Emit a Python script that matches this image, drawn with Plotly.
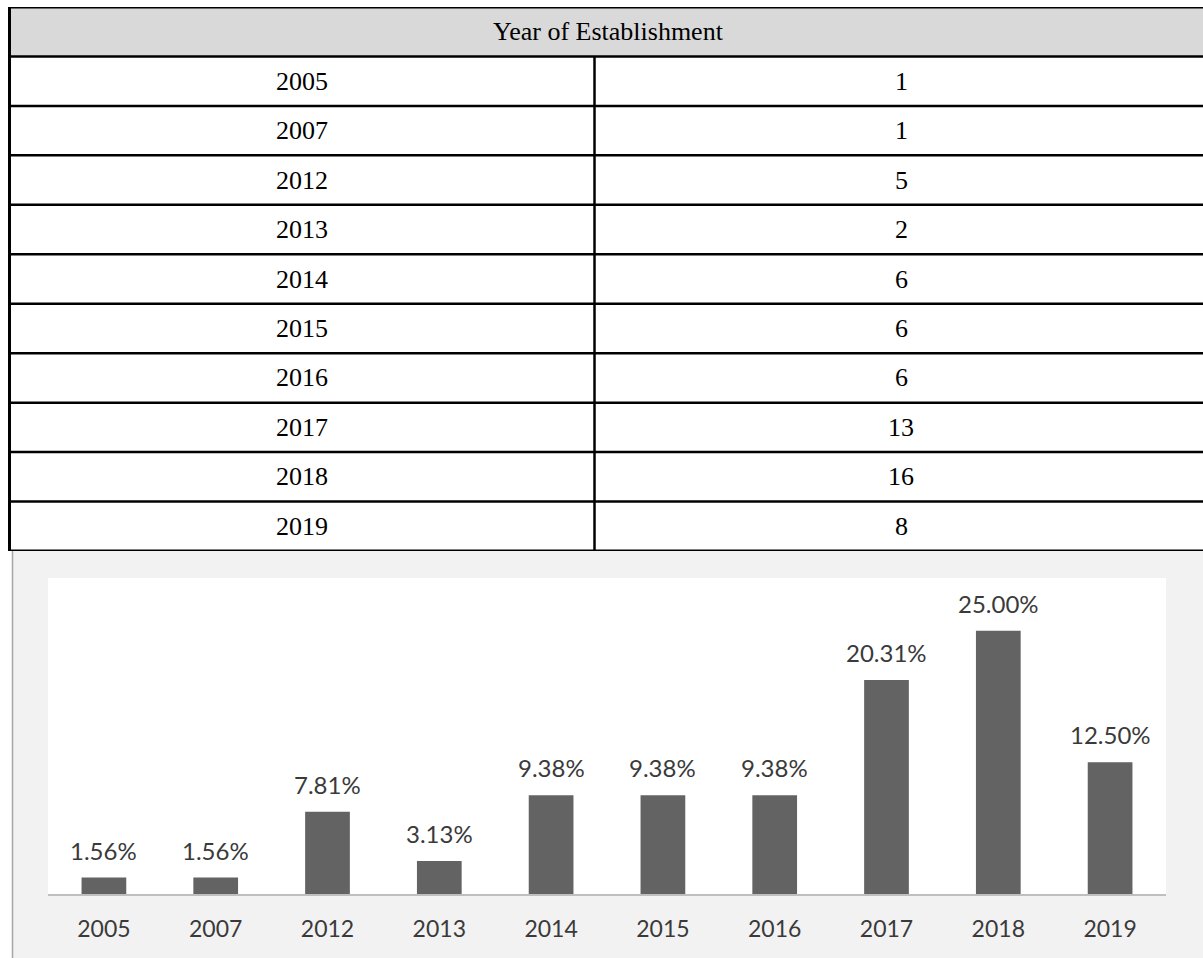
import plotly.graph_objects as go

# ---- data ----
years = ["2005", "2007", "2012", "2013", "2014", "2015", "2016", "2017", "2018", "2019"]
counts = [1, 1, 5, 2, 6, 6, 6, 13, 16, 8]
shares = [1.56, 1.56, 7.81, 3.13, 9.38, 9.38, 9.38, 20.31, 25.00, 12.50]
table_title = "Year of Establishment"

# ---- page geometry (pixels) ----
W, H = 1203, 958
TBL_TOP, TBL_BOTTOM = 7, 551
TBL_LEFT, TBL_DIV, TBL_RIGHT = 9.5, 594.5, 1208
PANEL_LEFT, PANEL_TOP = 12, 551
PLOT_L, PLOT_R, PLOT_T, PLOT_B = 48, 1166, 578, 894


def px(x):
    return x / W


def py(y):
    return 1 - y / H


SERIF = "Liberation Serif, Times New Roman, serif"
SANS = "Lato, Open Sans, sans-serif"

fig = go.Figure()

# bar chart of shares
fig.add_trace(go.Bar(
    x=years, y=shares,
    marker=dict(color="#636363", line=dict(width=0)),
    hoverinfo="x+y",
    showlegend=False,
    xaxis="x", yaxis="y",
))

shapes = []
annotations = []

# grey chart panel and white plotting area
shapes.append(dict(type="rect", xref="paper", yref="paper",
                   x0=px(PANEL_LEFT), x1=1.01, y0=-0.01, y1=py(PANEL_TOP),
                   fillcolor="#f2f2f2", line=dict(width=0), layer="below"))
shapes.append(dict(type="line", xref="paper", yref="paper",
                   x0=px(PANEL_LEFT + 0.5), x1=px(PANEL_LEFT + 0.5), y0=0, y1=py(PANEL_TOP),
                   line=dict(color="#a6a6a6", width=1.5), layer="below"))
shapes.append(dict(type="rect", xref="x domain", yref="y domain",
                   x0=0, x1=1, y0=0, y1=1,
                   fillcolor="#ffffff", line=dict(width=0), layer="below"))

# data labels above bars (category index positions on the x axis)
for i, v in enumerate(shares):
    annotations.append(dict(
        x=i, y=v, xref="x", yref="y", text=f"{v:.2f}%",
        showarrow=False, xanchor="center", yanchor="bottom", yshift=11,
        font=dict(family=SANS, size=24, color="#3a3a3a"),
    ))

# ---- table ----
n_rows = len(years) + 1  # header + data rows

# header background
shapes.append(dict(type="rect", xref="paper", yref="y2",
                   x0=px(TBL_LEFT), x1=1.01, y0=0, y1=1,
                   fillcolor="#d9d9d9", line=dict(width=0), layer="below"))
# horizontal rules
for i in range(1, n_rows):
    shapes.append(dict(type="line", xref="paper", yref="y2",
                       x0=px(TBL_LEFT), x1=1.01, y0=i, y1=i,
                       line=dict(color="#000000", width=2.5)))
for i in (0, n_rows):
    shapes.append(dict(type="line", xref="paper", yref="y2",
                       x0=px(TBL_LEFT), x1=1.01, y0=i, y1=i,
                       line=dict(color="#000000", width=3)))
# vertical rules
shapes.append(dict(type="line", xref="paper", yref="y2",
                   x0=px(TBL_LEFT), x1=px(TBL_LEFT), y0=0, y1=n_rows,
                   line=dict(color="#000000", width=3)))
shapes.append(dict(type="line", xref="paper", yref="y2",
                   x0=px(TBL_DIV), x1=px(TBL_DIV), y0=1, y1=n_rows,
                   line=dict(color="#000000", width=2.5)))

cell_font = dict(family=SERIF, size=26, color="#000000")
annotations.append(dict(
    x=px((TBL_LEFT + TBL_RIGHT) / 2), y=0.5, xref="paper", yref="y2",
    text=table_title, showarrow=False, xanchor="center", yanchor="middle",
    font=cell_font,
))
for i, (yr, c) in enumerate(zip(years, counts), start=1):
    annotations.append(dict(
        x=px((TBL_LEFT + TBL_DIV) / 2), y=i + 0.5, xref="paper", yref="y2",
        text=yr, showarrow=False, xanchor="center", yanchor="middle",
        font=cell_font,
    ))
    annotations.append(dict(
        x=px((TBL_DIV + TBL_RIGHT) / 2), y=i + 0.5, xref="paper", yref="y2",
        text=str(c), showarrow=False, xanchor="center", yanchor="middle",
        font=cell_font,
    ))

fig.update_layout(
    width=W, height=H,
    margin=dict(l=0, r=0, t=0, b=0, autoexpand=False),
    paper_bgcolor="#ffffff",
    plot_bgcolor="rgba(0,0,0,0)",
    bargap=0.6,
    showlegend=False,
    xaxis=dict(
        domain=[px(PLOT_L), px(PLOT_R)],
        anchor="y",
        type="category",
        categoryorder="array", categoryarray=years,
        range=[-0.5, len(years) - 0.5],
        automargin=False,
        showline=True, linecolor="#bfbfbf", linewidth=2,
        showgrid=False, zeroline=False,
        ticks="outside", ticklen=13, tickcolor="rgba(0,0,0,0)",
        tickfont=dict(family=SANS, size=23, color="#3a3a3a"),
        fixedrange=True,
    ),
    yaxis=dict(
        domain=[py(PLOT_B), py(PLOT_T)],
        anchor="x",
        range=[0, 30],
        visible=False,
        automargin=False,
        fixedrange=True,
    ),
    xaxis2=dict(
        domain=[0, 1], anchor="y2", range=[0, 1], visible=False,
        automargin=False, fixedrange=True,
    ),
    yaxis2=dict(
        domain=[py(TBL_BOTTOM), py(TBL_TOP)], anchor="x2",
        range=[n_rows, 0], visible=False, automargin=False, fixedrange=True,
    ),
    shapes=shapes,
    annotations=annotations,
)

fig.write_html("out.html")
